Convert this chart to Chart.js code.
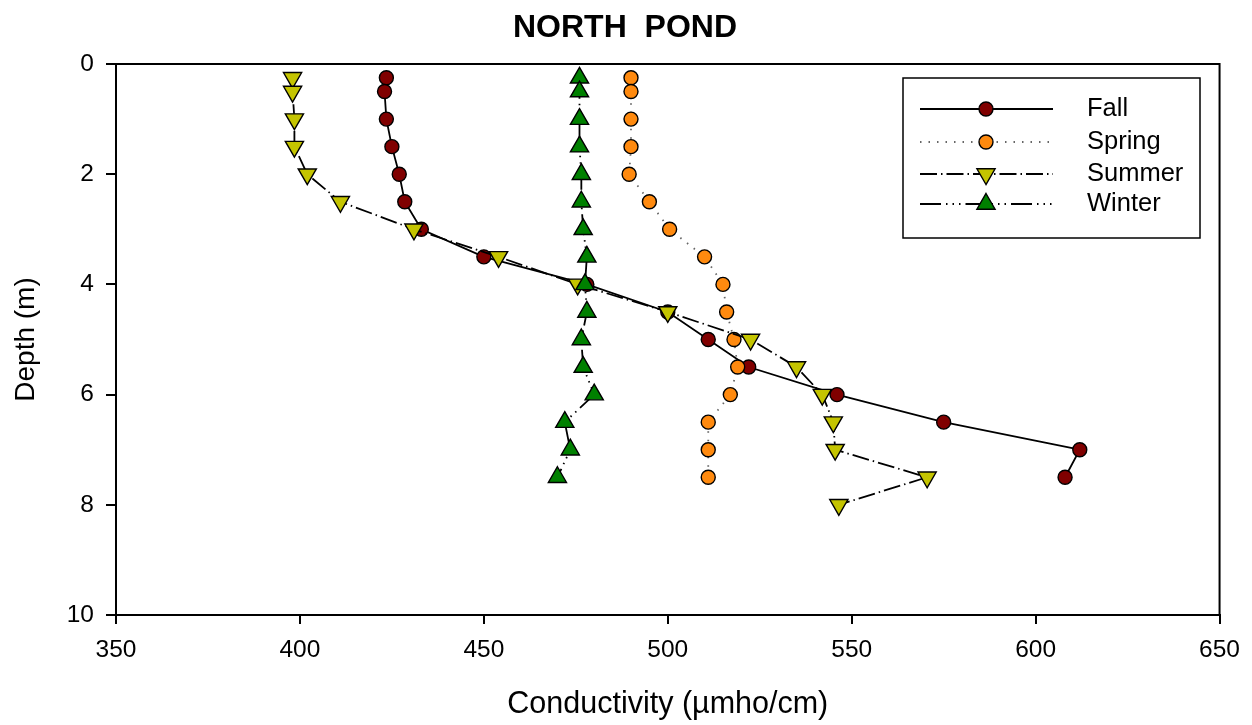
<!DOCTYPE html>
<html>
<head>
<meta charset="utf-8">
<title>North Pond</title>
<script src="https://cdn.jsdelivr.net/npm/chart.js@4/dist/chart.umd.min.js"></script>
<style>
  html, body { margin: 0; padding: 0; background: #fff; }
  canvas { display: block; }
</style>
</head>
<body>
<canvas id="chart-pond" width="1252" height="725"></canvas>
<script>
// Depth profiles of conductivity, one list per season (depth in m)
const fallDepth   = [0.25, 0.5, 1, 1.5, 2, 2.5, 3, 3.5, 4, 4.5, 5, 5.5, 6, 6.5, 7, 7.5];
const fallCond    = [423.5, 423, 423.5, 425, 427, 428.5, 433, 450, 478, 500, 511, 522, 546, 575, 612, 608];

const springDepth = [0.25, 0.5, 1, 1.5, 2, 2.5, 3, 3.5, 4, 4.5, 5, 5.5, 6, 6.5, 7, 7.5];
const springCond  = [490, 490, 490, 490, 489.5, 495, 500.5, 510, 515, 516, 518, 519, 517, 511, 511, 511];

const summerDepth = [0.25, 0.5, 1, 1.5, 2, 2.5, 3, 3.5, 4, 4.5, 5, 5.5, 6, 6.5, 7, 7.5, 8];
const summerCond  = [398, 398, 398.5, 398.5, 402, 411, 431, 454, 475.5, 500, 522.5, 535, 542, 545, 545.5, 570.5, 546.5];

const winterDepth = [0.25, 0.5, 1, 1.5, 2, 2.5, 3, 3.5, 4, 4.5, 5, 5.5, 6, 6.5, 7, 7.5];
const winterCond  = [476, 476, 476, 476, 476.5, 476.5, 477, 478, 477.5, 478, 476.5, 477, 480, 472, 473.5, 470];

const xTicks = [350, 400, 450, 500, 550, 600, 650];
const yTicks = [0, 2, 4, 6, 8, 10];

const FONT = 'Arial, "Liberation Sans", sans-serif';

function toPoints(xs, ys) {
    return xs.map((x, i) => ({ x: x, y: ys[i] }));
}

const seasons = [
    { label: 'Fall',   data: toPoints(fallCond, fallDepth),     color: '#800000', style: 'circle',   rot: 0,   r: 7,    dash: [],                          lineColor: '#000', order: 3 },
    { label: 'Spring', data: toPoints(springCond, springDepth), color: '#ff8a0f', style: 'circle',   rot: 0,   r: 7,    dash: [1.5, 7],                    lineColor: '#666', order: 2 },
    { label: 'Summer', data: toPoints(summerCond, summerDepth), color: '#c4c400', style: 'triangle', rot: 180, r: 10.5, dash: [17, 4, 1.5, 4],             lineColor: '#000', order: 1 },
    { label: 'Winter', data: toPoints(winterCond, winterDepth), color: '#008000', style: 'triangle', rot: 0,   r: 10.5, dash: [21, 5, 1.5, 5, 1.5, 5, 1.5, 5], lineColor: '#000', order: 0 },
];

// frame, title and the boxed legend
const decorPlugin = {
    id: 'decor',
    afterDraw(chart) {
        const ctx = chart.ctx;
        const a = chart.chartArea;
        ctx.save();
        ctx.strokeStyle = '#000';
        ctx.lineWidth = 2;
        ctx.beginPath();
        ctx.moveTo(a.left, a.top);
        ctx.lineTo(a.right, a.top);
        ctx.lineTo(a.right, a.bottom);
        ctx.stroke();

        ctx.fillStyle = '#000';
        ctx.font = 'bold 32px ' + FONT;
        ctx.textAlign = 'center';
        ctx.textBaseline = 'middle';
        ctx.fillText('NORTH  POND', 625, 28);

        // legend box
        ctx.lineWidth = 1.5;
        ctx.strokeRect(903, 78, 297, 160);
        const rows = [109, 142, 174, 204];
        seasons.forEach((s, i) => {
            const y = rows[i];
            ctx.save();
            ctx.strokeStyle = s.lineColor;
            ctx.lineWidth = 1.8;
            ctx.setLineDash(s.dash);
            ctx.beginPath();
            ctx.moveTo(920, y);
            ctx.lineTo(1053, y);
            ctx.stroke();
            ctx.restore();
            ctx.save();
            ctx.fillStyle = s.color;
            ctx.strokeStyle = '#000';
            ctx.lineWidth = 1.4;
            Chart.helpers.drawPoint(ctx, { pointStyle: s.style, radius: s.r, rotation: s.rot, borderWidth: 1.4 }, 986, y);
            ctx.restore();
            ctx.fillStyle = '#000';
            ctx.font = '25.5px ' + FONT;
            ctx.textAlign = 'left';
            ctx.textBaseline = 'middle';
            ctx.fillText(s.label, 1087, y);
        });
        ctx.restore();
    }
};

new Chart(document.getElementById('chart-pond'), {
    type: 'line',
    data: {
        datasets: seasons.map(s => ({
            label: s.label,
            data: s.data,
            order: s.order,
            borderColor: s.lineColor,
            borderWidth: 1.8,
            borderDash: s.dash,
            backgroundColor: s.color,
            pointBackgroundColor: s.color,
            pointBorderColor: '#000',
            pointBorderWidth: 1.4,
            pointStyle: s.style,
            pointRotation: s.rot,
            pointRadius: s.r,
            tension: 0,
            fill: false,
        })),
    },
    options: {
        responsive: false,
        animation: false,
        layout: { padding: { top: 64, right: 32, left: 0, bottom: 0 } },
        plugins: {
            legend: { display: false },
            tooltip: { enabled: false },
        },
        scales: {
            x: {
                type: 'linear',
                min: 350,
                max: 650,
                afterFit: s => { s.height = 110; },
                afterBuildTicks: s => { s.ticks = xTicks.map(v => ({ value: v })); },
                ticks: { color: '#000', font: { family: FONT, size: 24.5 }, padding: 12, maxRotation: 0 },
                grid: { drawOnChartArea: false, drawTicks: true, tickLength: 9, color: '#000', lineWidth: 2 },
                border: { display: true, color: '#000', width: 2 },
                title: { display: true, text: 'Conductivity (µmho/cm)', color: '#000', font: { family: FONT, size: 30.5 }, padding: { bottom: 2 } },
            },
            y: {
                type: 'linear',
                reverse: true,
                min: 0,
                max: 10,
                afterFit: s => { s.width = 116; },
                afterBuildTicks: s => { s.ticks = yTicks.map(v => ({ value: v })); },
                ticks: { color: '#000', font: { family: FONT, size: 24.5 }, padding: 12 },
                grid: { drawOnChartArea: false, drawTicks: true, tickLength: 10, color: '#000', lineWidth: 2 },
                border: { display: true, color: '#000', width: 2 },
                title: { display: true, text: 'Depth (m)', color: '#000', font: { family: FONT, size: 28 }, padding: { top: 9 } },
            },
        },
    },
    plugins: [decorPlugin],
});
</script>
</body>
</html>
